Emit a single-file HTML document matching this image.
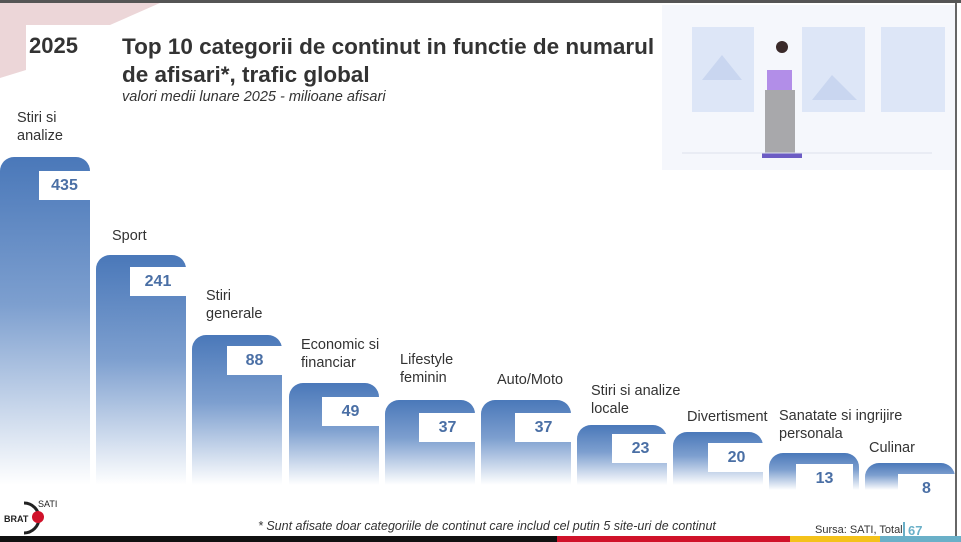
<!DOCTYPE html>
<html><head><meta charset="utf-8"><style>
body{margin:0;width:961px;height:542px;overflow:hidden;background:#fff;position:relative;font-family:"Liberation Sans",sans-serif;}
.a{position:absolute}
.bar{position:absolute;width:90px;border-radius:14px 14px 0 0;background:linear-gradient(#4a78b9 0%,#7d9fcf 45%,#fff 100%);}
.box{position:absolute;background:#fff;width:57px;height:29px;color:#4a6fa5;font-weight:bold;font-size:16px;text-align:center;line-height:29px}
.lab{position:absolute;font-size:14.5px;color:#333;line-height:18px}
</style></head><body>
<div class="a" style="left:0;top:0;width:961px;height:3px;background:#555"></div>
<svg class="a" style="left:0;top:0" width="170" height="80"><polygon points="0,3 160,3 110,25 26,25 26,70 0,78" fill="#ecd6d8"/></svg>
<div class="a" style="left:26px;top:25px;width:70px;height:45px;background:#fff"></div>
<div class="a" style="left:29px;top:33px;font-size:22px;font-weight:bold;color:#333">2025</div>
<div class="a" style="left:122px;top:33px;font-size:22.5px;font-weight:bold;color:#333;line-height:28px">Top 10 categorii de continut in functie de numarul<br>de afisari*, trafic global</div>
<div class="a" style="left:122px;top:89px;font-size:14.5px;font-style:italic;color:#333">valori medii lunare 2025 - milioane afisari</div>
<div class="a" style="left:662px;top:5px;width:293px;height:165px;background:#f5f7fc"></div>
<svg class="a" style="left:662px;top:5px" width="293" height="165">
<rect x="30" y="22" width="62" height="85" fill="#dde6f7"/>
<rect x="140" y="22" width="63" height="85" fill="#dde6f7"/>
<rect x="219" y="22" width="64" height="85" fill="#dde6f7"/>
<polygon points="40,75 60,50 80,75" fill="#c9d6f0"/>
<polygon points="150,95 170,70 195,95" fill="#c9d6f0"/>
<rect x="105" y="65" width="25" height="22" fill="#b28ee8"/>
<rect x="103" y="85" width="30" height="65" fill="#a8a8ab"/>
<rect x="100" y="148" width="40" height="5" fill="#6c5cc4"/>
<circle cx="120" cy="42" r="6" fill="#3a2a2a"/>
<line x1="20" y1="148" x2="270" y2="148" stroke="#dde2ec"/>
</svg>
<div class="a" style="left:955px;top:3px;width:2px;height:535px;background:#666"></div>

<div class="bar" style="left:0;top:157px;height:328px"></div>
<div class="bar" style="left:96px;top:255px;height:230px"></div>
<div class="bar" style="left:192px;top:335px;height:150px"></div>
<div class="bar" style="left:289px;top:383px;height:102px"></div>
<div class="bar" style="left:385px;top:400px;height:85px"></div>
<div class="bar" style="left:481px;top:400px;height:85px"></div>
<div class="bar" style="left:577px;top:425px;height:60px"></div>
<div class="bar" style="left:673px;top:432px;height:53px"></div>
<div class="bar" style="left:769px;top:453px;height:37px"></div>
<div class="bar" style="left:865px;top:463px;height:27px"></div>

<div class="box" style="left:39px;top:171px;width:51px">435</div>
<div class="box" style="left:130px;top:267px;width:56px">241</div>
<div class="box" style="left:227px;top:346px;width:55px">88</div>
<div class="box" style="left:322px;top:397px">49</div>
<div class="box" style="left:419px;top:413px">37</div>
<div class="box" style="left:515px;top:413px">37</div>
<div class="box" style="left:612px;top:434px">23</div>
<div class="box" style="left:708px;top:443px">20</div>
<div class="box" style="left:796px;top:464px">13</div>
<div class="box" style="left:898px;top:474px">8</div>

<div class="lab" style="left:17px;top:109px">Stiri si<br>analize</div>
<div class="lab" style="left:112px;top:227px">Sport</div>
<div class="lab" style="left:206px;top:287px">Stiri<br>generale</div>
<div class="lab" style="left:301px;top:336px">Economic si<br>financiar</div>
<div class="lab" style="left:400px;top:351px">Lifestyle<br>feminin</div>
<div class="lab" style="left:497px;top:371px">Auto/Moto</div>
<div class="lab" style="left:591px;top:382px">Stiri si analize<br>locale</div>
<div class="lab" style="left:687px;top:408px">Divertisment</div>
<div class="lab" style="left:779px;top:407px">Sanatate si ingrijire<br>personala</div>
<div class="lab" style="left:869px;top:439px">Culinar</div>

<div class="a" style="left:258px;top:519px;font-size:12.5px;font-style:italic;color:#333">* Sunt afisate doar categoriile de continut care includ cel putin 5 site-uri de continut</div>
<div class="a" style="left:815px;top:524px;font-size:11px;color:#333">Sursa: SATI, Total</div>
<div class="a" style="left:903px;top:522px;width:2px;height:15px;background:#6ab0c8"></div>
<div class="a" style="left:908px;top:523px;font-size:13px;font-weight:bold;color:#6ab0c8">67</div>
<svg class="a" style="left:2px;top:495px" width="90" height="42">
<path d="M22,8 A14,14 0 1,1 22,38" fill="none" stroke="#222" stroke-width="3"/>
<circle cx="36" cy="22" r="6" fill="#d0122a"/>
<text x="36" y="12" font-size="9" font-family="Liberation Sans" fill="#222">SATI</text>
<text x="2" y="27" font-size="9" font-weight="bold" font-family="Liberation Sans" fill="#222">BRAT</text>
</svg>
<div class="a" style="left:0;top:536px;width:557px;height:6px;background:#111"></div>
<div class="a" style="left:557px;top:536px;width:233px;height:6px;background:#d0122a"></div>
<div class="a" style="left:790px;top:536px;width:90px;height:6px;background:#f4c21a"></div>
<div class="a" style="left:880px;top:536px;width:81px;height:6px;background:#6ab0c8"></div>
</body></html>
